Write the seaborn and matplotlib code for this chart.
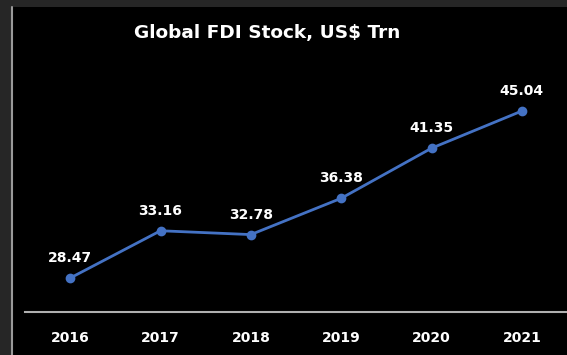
import matplotlib
matplotlib.use("Agg")
import matplotlib.pyplot as plt
import seaborn as sns
from matplotlib.patches import Rectangle
from matplotlib.lines import Line2D

years = ["2016", "2017", "2018", "2019", "2020", "2021"]
values = [28.47, 33.16, 32.78, 36.38, 41.35, 45.04]
title = "Global FDI Stock, US$ Trn"

sns.set_theme(style="dark")
plt.rcParams["font.family"] = ["DejaVu Sans"]

fig = plt.figure(figsize=(5.67, 3.55), dpi=100, facecolor="#262626")
# black panel with light left border
fig.patches.append(Rectangle((12/567, 0), 1 - 12/567, 1 - 7/355, transform=fig.transFigure,
                             facecolor="black", edgecolor="none", zorder=-2))
fig.lines.append(Line2D([11.5/567, 11.5/567], [0, 1 - 7/355], transform=fig.transFigure,
                        color="#9a9a9a", linewidth=1.5, zorder=-1))

ax = fig.add_axes([25/567, 1 - 312/355, 542/567, (312 - 60)/355])
ax.set_facecolor("black")
ax.patch.set_alpha(0)

sns.pointplot(x=years, y=values, color="#4472C4", ax=ax, markersize=5.5, linewidth=2,
              markers="o")

ax.set_xlim(-0.5, 5.5)
ax.set_ylim(25.1, 50.1)
ax.set_yticks([])
ax.set_xlabel("")
ax.set_ylabel("")
for s in ["top", "right", "left"]:
    ax.spines[s].set_visible(False)
ax.spines["bottom"].set_visible(True)
ax.spines["bottom"].set_color("#b0b0b0")
ax.spines["bottom"].set_linewidth(1.5)
ax.tick_params(axis="x", length=0, pad=14, colors="white", labelsize=10)
for lbl in ax.get_xticklabels():
    lbl.set_fontweight("bold")
ax.grid(False)

for i, v in enumerate(values):
    ax.annotate(f"{v:.2f}", (i, v), xytext=(0, 14.4), textcoords="offset points",
                ha="center", va="center", color="white", fontsize=10, fontweight="bold")

fig.text(267/567, 1 - 33/355, title, ha="center", va="center", color="white",
         fontsize=13.3, fontweight="bold")

fig.savefig("out.png", dpi=100, facecolor=fig.get_facecolor())
